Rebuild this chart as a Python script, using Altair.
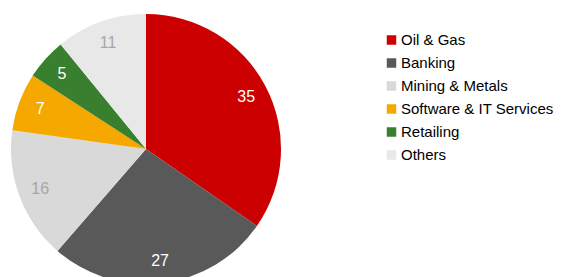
import altair as alt
import pandas as pd

categories = ["Oil & Gas", "Banking", "Mining & Metals", "Software & IT Services", "Retailing", "Others"]
values = [35, 27, 16, 7, 5, 11]
colors = ["#CC0000", "#595959", "#D9D9D9", "#F5A800", "#38802E", "#E8E8E8"]
label_colors = ["#FFFFFF", "#FFFFFF", "#A6A6A6", "#FFFFFF", "#FFFFFF", "#A6A6A6"]

df = pd.DataFrame({
    "category": categories,
    "value": values,
    "order": list(range(len(categories))),
    "lc": label_colors,
})

cx, cy = 138, 141

base = alt.Chart(df).encode(
    theta=alt.Theta("value:Q", stack=True),
    order=alt.Order("order:Q"),
)

pie = base.mark_arc(radius=135, stroke=None).encode(
    x=alt.value(cx), y=alt.value(cy),
    color=alt.Color(
        "category:N",
        scale=alt.Scale(domain=categories, range=colors),
        sort=categories,
        legend=alt.Legend(
            title=None, orient="none", legendX=376, legendY=24.5,
            symbolType="square", symbolSize=90, symbolStrokeWidth=0,
            labelFont="Liberation Sans", labelFontSize=15, labelColor="#000000",
            labelOffset=2, rowPadding=7, padding=0, labelLimit=400,
        ),
    ),
)

text = base.mark_text(radius=113, font="Liberation Sans", fontSize=16).encode(
    x=alt.value(cx), y=alt.value(cy),
    text="value:Q",
    color=alt.Color("lc:N", scale=None),
)

chart = (pie + text).properties(
    width=547, height=269,
    autosize=alt.AutoSizeParams(type="none"),
    padding=0,
).configure_view(stroke=None)

chart.save("out.html", embed_options={"renderer": "svg", "actions": False})
